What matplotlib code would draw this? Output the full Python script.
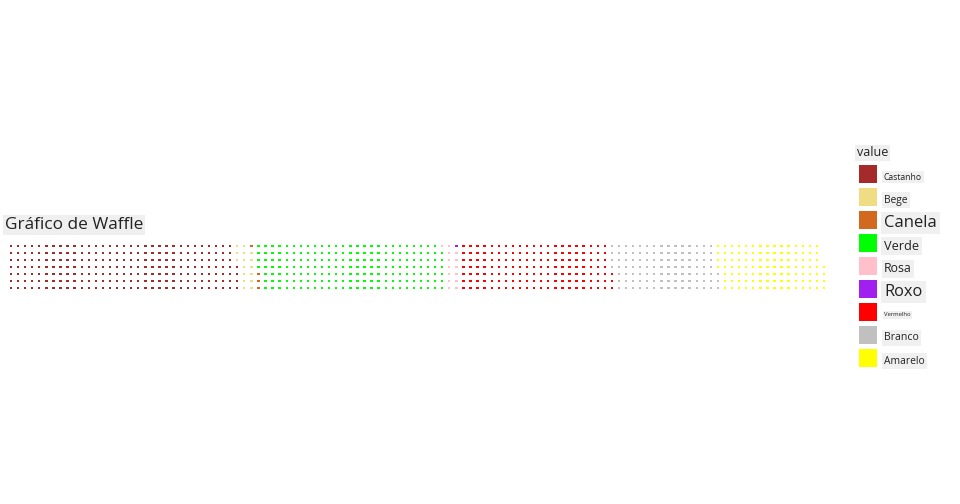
import matplotlib
matplotlib.use("Agg")
import matplotlib.pyplot as plt
from matplotlib.patches import Rectangle

plt.rcParams['font.family'] = ['Open Sans', 'DejaVu Sans']

# dados do waffle (células por categoria, preenchidas por coluna, de baixo p/ cima)
categorias = ['Castanho', 'Bege', 'Canela', 'Verde', 'Rosa', 'Roxo', 'Vermelho', 'Branco', 'Amarelo']
contagens = [228, 16, 4, 185, 14, 1, 150, 105, 106]
cores = ['#A52A2A', '#F0DC82', '#D2691E', '#00FF00', '#FFC0CB', '#A020F0', '#FF0000', '#C0C0C0', '#FFFF00']
tam_rotulo = [6.2, 7.4, 12.0, 9.2, 8.8, 11.8, 4.2, 7.6, 7.4]
n_linhas = 7

fig = plt.figure(figsize=(9.6, 5.04), dpi=100)
W, H = 960, 504

# eixo do waffle posicionado em pixels
esq, dir_, topo, base = 7.5, 827.5, 242.2, 291.2
ax = fig.add_axes([esq / W, 1 - base / H, (dir_ - esq) / W, (base - topo) / H])

xs, ys, cs = [], [], []
i = 0
for cat, n, c in zip(categorias, contagens, cores):
    for _ in range(n):
        xs.append(i // n_linhas)
        ys.append(i % n_linhas)
        cs.append(c)
        i += 1
n_colunas = (i + n_linhas - 1) // n_linhas

ax.scatter(xs, ys, c=cs, marker='s', s=2.9, linewidths=0)
ax.set_xlim(-0.5, n_colunas - 0.5)
ax.set_ylim(-0.5, n_linhas - 0.5)
ax.axis('off')

# título
fig.text(5 / W, 1 - 225 / H, 'Gráfico de Waffle', fontsize=12.4, color='#222222',
         va='center', ha='left',
         bbox=dict(boxstyle='square,pad=0.12', fc='#EFEFEF', ec='none'))

# legenda manual
lg = fig.add_axes([0, 0, 1, 1])
lg.set_xlim(0, W)
lg.set_ylim(H, 0)
lg.axis('off')
lg.text(857, 153, 'value', fontsize=9.0, color='#222222', va='center', ha='left',
        bbox=dict(boxstyle='square,pad=0.15', fc='#EFEFEF', ec='none'))
for k, (cat, c, fs) in enumerate(zip(categorias, cores, tam_rotulo)):
    yc = 174 + k * 23
    lg.add_patch(Rectangle((859, yc - 9), 18, 18, fc=c, ec='none'))
    lg.text(884, yc + 3, cat, fontsize=fs, color='#222222', va='center', ha='left',
            bbox=dict(boxstyle='square,pad=0.2', fc='#F0F0F0', ec='none'))

fig.savefig('out.png', dpi=100)
